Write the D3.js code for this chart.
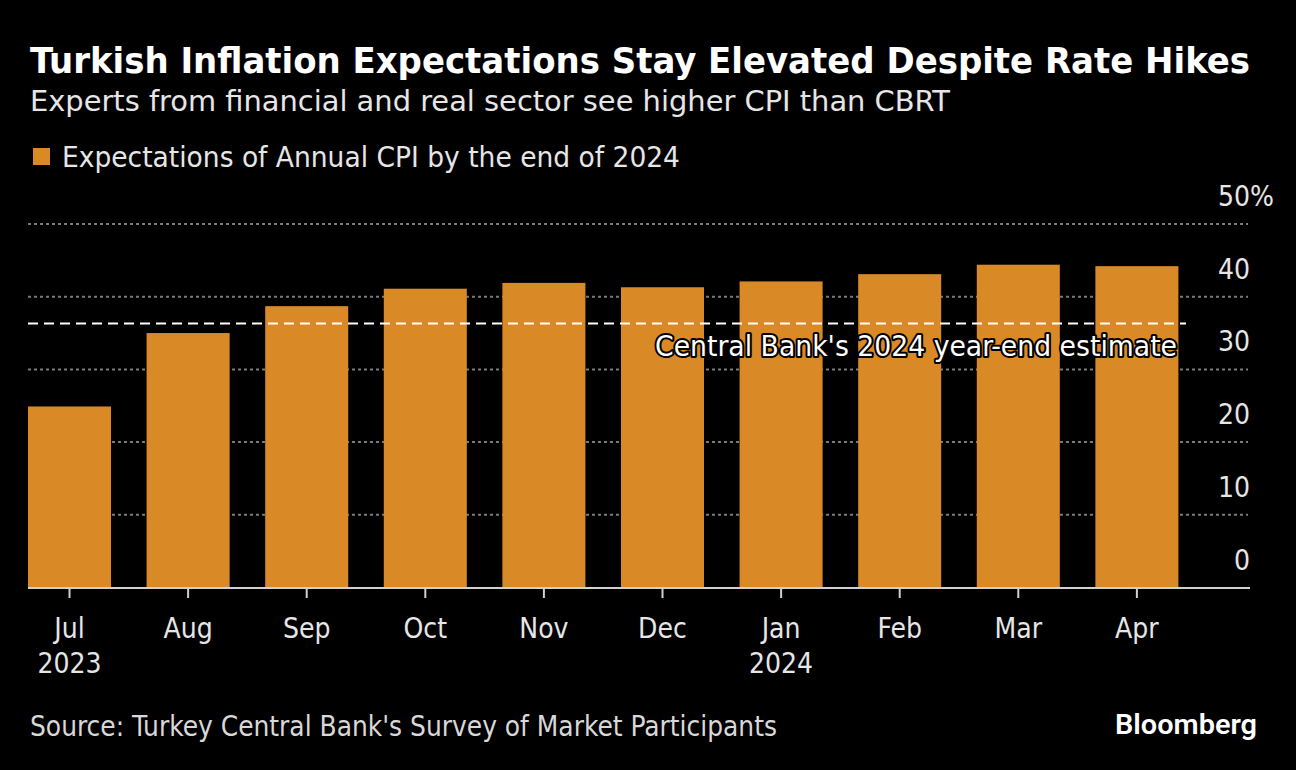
<!DOCTYPE html>
<html><head><meta charset="utf-8">
<script src="https://cdn.jsdelivr.net/npm/d3@7"></script>
<style>
html,body{margin:0;padding:0;background:#000;}
svg{display:block;}
text{font-family:"Liberation Sans Narrow","DejaVu Sans Condensed","DejaVu Sans",sans-serif;}
</style></head>
<body>
<svg id="c" width="1296" height="770"></svg>
<script>
const months = ["Jul","Aug","Sep","Oct","Nov","Dec","Jan","Feb","Mar","Apr"];
const years = ["2023","","","","","","2024","","",""];
const cpiExpectations = [24.9, 35.0, 38.7, 41.1, 41.9, 41.3, 42.1, 43.1, 44.4, 44.2];
const cbrtEstimate = 36.3;
const yTicks = [0,10,20,30,40,50];

const svg = d3.select("#c");
svg.append("rect").attr("width",1296).attr("height",770).attr("fill","#000");

const x = d3.scaleBand().domain(months).range([28,1178.4]).paddingInner(0.3).paddingOuter(0);
const y = d3.scaleLinear().domain([0,50]).range([587.5,224]);

// title
svg.append("text").attr("x",30).attr("y",73).attr("fill","#fff")
  .attr("font-size",36).attr("font-weight","bold")
  .style("font-family","'DejaVu Sans Condensed','DejaVu Sans',sans-serif")
  .attr("textLength",1220).attr("lengthAdjust","spacingAndGlyphs")
  .text("Turkish Inflation Expectations Stay Elevated Despite Rate Hikes");
svg.append("text").attr("x",30).attr("y",111).attr("fill","#e6e6e6")
  .attr("font-size",29)
  .attr("textLength",920).attr("lengthAdjust","spacingAndGlyphs")
  .text("Experts from financial and real sector see higher CPI than CBRT");
// legend
svg.append("rect").attr("x",33).attr("y",148).attr("width",17).attr("height",17).attr("fill","#d98a26");
svg.append("text").attr("x",62).attr("y",167).attr("fill","#e6e6e6")
  .attr("font-size",28)
  .attr("textLength",618).attr("lengthAdjust","spacingAndGlyphs")
  .text("Expectations of Annual CPI by the end of 2024");

// gridlines
svg.append("g").selectAll("line").data(yTicks.filter(d=>d>0)).join("line")
  .attr("x1",28).attr("x2",1248)
  .attr("y1",d=>y(d)).attr("y2",d=>y(d))
  .attr("stroke","#7a7a7a").attr("stroke-width",2).attr("stroke-dasharray","3,3");

// y labels
svg.append("g").selectAll("text").data(yTicks).join("text")
  .attr("x",1250).attr("y",d=>y(d)-18)
  .attr("text-anchor","end").attr("fill","#e6e6e6").attr("font-size",28)
  .text(d=>d);
svg.append("text").attr("x",1250).attr("y",y(50)-18)
  .attr("fill","#e6e6e6").attr("font-size",28).text("%");

// bars
svg.append("g").selectAll("rect").data(cpiExpectations).join("rect")
  .attr("x",(d,i)=>x(months[i])).attr("width",x.bandwidth())
  .attr("y",d=>y(d)).attr("height",d=>y(0)-y(d))
  .attr("fill","#d98a26");

// axis line and ticks
svg.append("line").attr("x1",28).attr("x2",1250).attr("y1",588).attr("y2",588)
  .attr("stroke","#d0d0d0").attr("stroke-width",2);
const xAxis = svg.append("g").attr("transform","translate(0,588)")
  .call(d3.axisBottom(x).tickSize(10).tickSizeOuter(0).tickFormat(""));
xAxis.select(".domain").remove();
xAxis.selectAll(".tick line").attr("stroke","#d0d0d0").attr("stroke-width",2);

svg.append("g").selectAll("text").data(months).join("text")
  .attr("x",d=>x(d)+x.bandwidth()/2).attr("y",638)
  .attr("text-anchor","middle").attr("fill","#e6e6e6").attr("font-size",28)
  .text(d=>d);
svg.append("g").selectAll("text").data(years).join("text")
  .attr("x",(d,i)=>x(months[i])+x.bandwidth()/2).attr("y",673)
  .attr("text-anchor","middle").attr("fill","#e6e6e6").attr("font-size",28)
  .text(d=>d);

// CBRT line
svg.append("line").attr("x1",28).attr("x2",1186)
  .attr("y1",y(cbrtEstimate)).attr("y2",y(cbrtEstimate))
  .attr("stroke","#fff").attr("stroke-width",2).attr("stroke-dasharray","10,6");
svg.append("text").attr("x",1177).attr("y",y(cbrtEstimate)+32)
  .attr("text-anchor","end").attr("fill","#fff").attr("font-size",29)
  .attr("stroke","#000").attr("stroke-width",4).attr("paint-order","stroke")
  .attr("stroke-linejoin","round")
  .attr("textLength",522).attr("lengthAdjust","spacingAndGlyphs")
  .text("Central Bank's 2024 year-end estimate");

// source
svg.append("text").attr("x",30).attr("y",736).attr("fill","#d8d8d8")
  .attr("font-size",28)
  .attr("textLength",747).attr("lengthAdjust","spacingAndGlyphs")
  .text("Source: Turkey Central Bank's Survey of Market Participants");
svg.append("text").attr("x",1257).attr("y",734).attr("text-anchor","end")
  .attr("fill","#fff").attr("font-size",27).attr("font-weight","600")
  .style("font-family","Roboto, 'Open Sans', sans-serif")
  .attr("textLength",142).attr("lengthAdjust","spacingAndGlyphs")
  .text("Bloomberg");
</script>
</body></html>
